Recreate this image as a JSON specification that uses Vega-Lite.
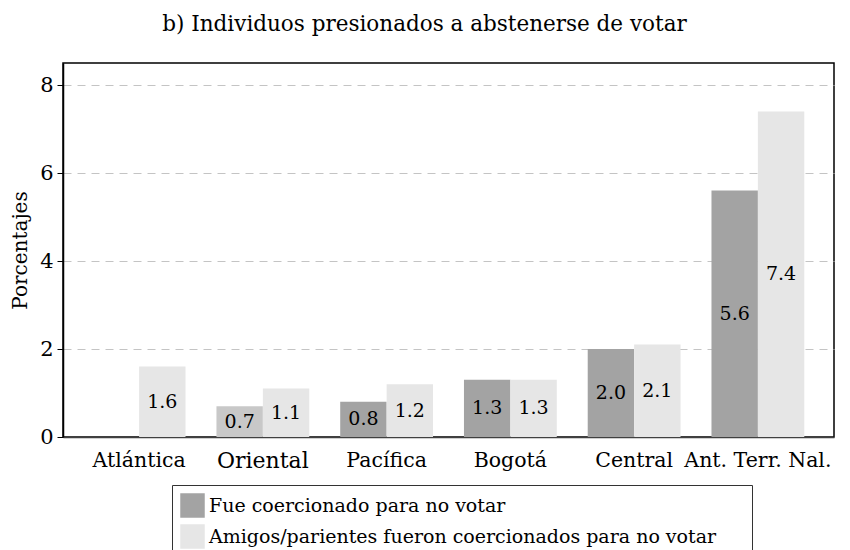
{
  "$schema": "https://vega.github.io/schema/vega-lite/v6.json",
  "width": 771,
  "height": 374,
  "autosize": "none",
  "padding": {"left": 63, "top": 63, "right": 16, "bottom": 113},
  "background": "white",
  "title": {"text": "b) Individuos presionados a abstenerse de votar", "font": "DejaVu Serif", "fontSize": 21.5, "fontWeight": "normal", "color": "black", "anchor": "middle", "dx": -24, "offset": 28},
  "config": {"view": {"stroke": "black", "strokeWidth": 1.5}, "font": "DejaVu Serif"},
  "data": {"values": [
    {"region": "Atlántica", "serie": "Amigos/parientes fueron coercionados para no votar", "v": 1.6},
    {"region": "Oriental", "serie": "Fue coercionado para no votar", "v": 0.7},
    {"region": "Oriental", "serie": "Amigos/parientes fueron coercionados para no votar", "v": 1.1},
    {"region": "Pacífica", "serie": "Fue coercionado para no votar", "v": 0.8},
    {"region": "Pacífica", "serie": "Amigos/parientes fueron coercionados para no votar", "v": 1.2},
    {"region": "Bogotá", "serie": "Fue coercionado para no votar", "v": 1.3},
    {"region": "Bogotá", "serie": "Amigos/parientes fueron coercionados para no votar", "v": 1.3},
    {"region": "Central", "serie": "Fue coercionado para no votar", "v": 2.0},
    {"region": "Central", "serie": "Amigos/parientes fueron coercionados para no votar", "v": 2.1},
    {"region": "Ant. Terr. Nal.", "serie": "Fue coercionado para no votar", "v": 5.6},
    {"region": "Ant. Terr. Nal.", "serie": "Amigos/parientes fueron coercionados para no votar", "v": 7.4}
  ]},
  "layer": [
    {
      "mark": {"type": "bar"},
      "encoding": {
        "x": {"field": "region", "type": "nominal", "sort": ["Atlántica", "Oriental", "Pacífica", "Bogotá", "Central", "Ant. Terr. Nal."],
          "scale": {"paddingInner": 0.25, "paddingOuter": 0.24},
          "axis": {"title": null, "labelAngle": 0, "ticks": false, "domainColor": "#404040", "domainWidth": 1.5, "labelFontSize": {"condition": {"test": "datum.value === 'Oriental'", "value": 22}, "value": 20.5}, "labelColor": "black", "labelPadding": 13, "labelFont": "DejaVu Serif"}},
        "xOffset": {"field": "serie", "type": "nominal", "sort": ["Fue coercionado para no votar", "Amigos/parientes fueron coercionados para no votar"], "scale": {"paddingInner": 0, "paddingOuter": 0}},
        "y": {"field": "v", "type": "quantitative", "scale": {"domain": [0, 8.5], "nice": false},
          "axis": {"title": "Porcentajes", "values": [0, 2, 4, 6, 8], "titleFontSize": 20, "titleFontWeight": "normal", "titleColor": "black", "titlePadding": 9, "labelFontSize": 21, "labelColor": "black", "tickColor": "black", "tickSize": 6, "domainColor": "black", "domainWidth": 1.5, "gridDash": [8, 6], "gridColor": "#c4c4c4", "labelPadding": 4}},
        "color": {
          "condition": {"test": "datum.region === 'Oriental' && datum.serie === 'Fue coercionado para no votar'", "value": "#c8c8c8"},
          "field": "serie", "type": "nominal",
          "scale": {"domain": ["Fue coercionado para no votar", "Amigos/parientes fueron coercionados para no votar"], "range": ["#a3a3a3", "#e6e6e6"]},
          "legend": {"title": null, "orient": "none", "legendX": 109, "legendY": 422, "strokeColor": "#333333", "fillColor": "white", "padding": 8, "symbolType": "square", "symbolSize": 600, "symbolStrokeWidth": 0, "symbolOpacity": 1, "labelFontSize": 19, "labelColor": "black", "labelFont": "DejaVu Serif", "labelLimit": 700, "rowPadding": 6, "labelExpr": "datum.label + '\u2800\u2800'"}
        }
      }
    },
    {
      "mark": {"type": "text", "fontSize": 19, "color": "black", "baseline": "middle"},
      "encoding": {
        "x": {"field": "region", "type": "nominal", "sort": ["Atlántica", "Oriental", "Pacífica", "Bogotá", "Central", "Ant. Terr. Nal."]},
        "xOffset": {"field": "serie", "type": "nominal", "sort": ["Fue coercionado para no votar", "Amigos/parientes fueron coercionados para no votar"]},
        "y": {"field": "v", "type": "quantitative", "scale": {"domain": [0, 17], "nice": false}, "axis": null},
        "text": {"field": "v", "type": "quantitative", "format": ".1f"}
      }
    }
  ],
  "resolve": {"scale": {"y": "independent"}}
}
